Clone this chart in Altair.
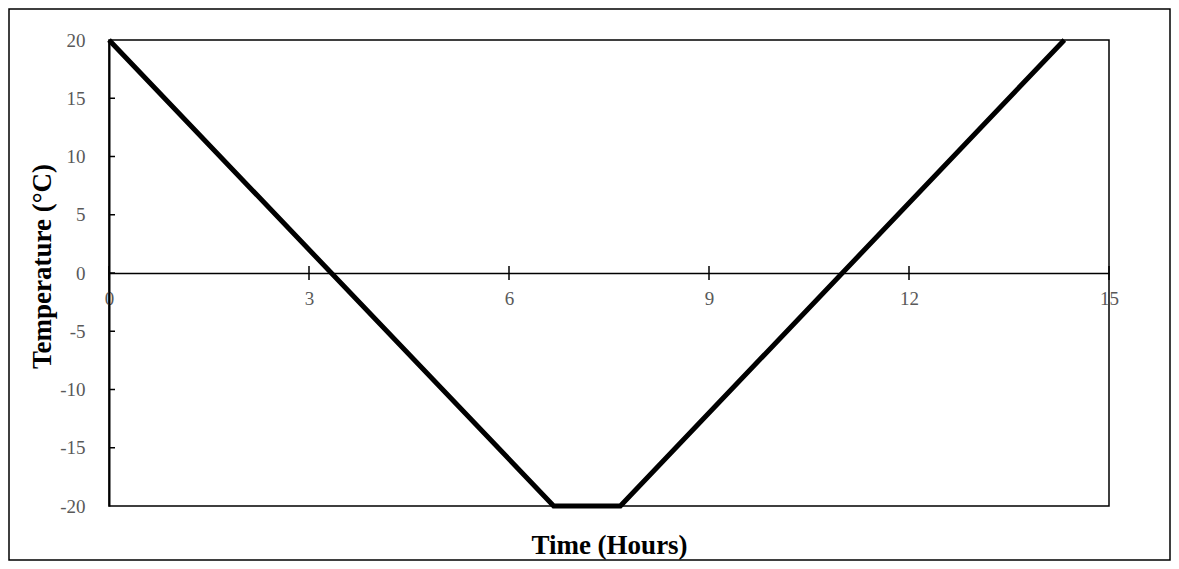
import altair as alt
import pandas as pd

# Data
time_h = [0, 6.67, 7.67, 14.33]
temp_c = [20, -20, -20, 20]
x_ticks = [0, 3, 6, 9, 12, 15]
y_ticks = [-20, -15, -10, -5, 0, 5, 10, 15, 20]
y_inner_ticks = [-15, -10, -5, 0, 5, 10, 15]

df = pd.DataFrame({"Time": time_h, "Temp": temp_c})
xt = pd.DataFrame({"Time": x_ticks})
yt = pd.DataFrame({"Temp": y_inner_ticks})
frame_df = pd.DataFrame({"k": [0]})

W, H = 1000, 466
PAD_L, PAD_T, PAD_R, PAD_B = 101, 32, 62, 55
FONT = "Liberation Serif"

xscale = alt.Scale(domain=[0, 15], nice=False, zero=False)
yscale = alt.Scale(domain=[-20, 20], nice=False)

x_axis = alt.Axis(
    values=x_ticks,
    title="Time (Hours)",
    offset=-H / 2,
    ticks=False,
    tickSize=0,
    labelPadding=16,
    labelExpr="'' + datum.value",
    labelFont=FONT,
    labelFontSize=19,
    labelColor="#595959",
    labelFlush=False,
    labelOverlap=False,
    domain=True,
    domainColor="black",
    domainWidth=1.5,
    grid=False,
    titleFont=FONT,
    titleFontSize=27,
    titleFontWeight="bold",
    titleColor="black",
    titleBaseline="alphabetic",
    titleY=280,
)

y_axis = alt.Axis(
    values=y_ticks,
    title="Temperature (°C)",
    ticks=False,
    tickSize=0,
    labelPadding=24,
    labelExpr="'' + datum.value",
    labelFont=FONT,
    labelFontSize=19,
    labelColor="#595959",
    labelFlush=False,
    labelOverlap=False,
    domain=True,
    domainColor="black",
    domainWidth=2,
    grid=False,
    titleFont=FONT,
    titleFontSize=27,
    titleFontWeight="bold",
    titleColor="black",
    titleX=-67,
    titleY=226,
    titleBaseline="middle",
)

X = alt.X("Time:Q", scale=xscale, axis=x_axis)
Y = alt.Y("Temp:Q", scale=yscale, axis=y_axis)

line = alt.Chart(df).mark_line(color="black", strokeWidth=5).encode(x=X, y=Y)

xtick_marks = alt.Chart(xt).mark_rule(color="black", strokeWidth=1.5).encode(
    x=X,
    y=alt.value(H / 2 - 7),
    y2=alt.value(H / 2 + 7),
)

ytick_marks = alt.Chart(yt).mark_rule(color="black", strokeWidth=1.5).encode(
    y=Y,
    x=alt.value(0),
    x2=alt.value(6),
)

outer = alt.Chart(frame_df).mark_rect(fill=None, stroke="black", strokeWidth=1.5).encode(
    x=alt.value(-PAD_L + 1),
    x2=alt.value(W + PAD_R - 1),
    y=alt.value(-PAD_T + 1),
    y2=alt.value(H + PAD_B - 1),
)

chart = (
    alt.layer(outer, xtick_marks, ytick_marks, line)
    .properties(
        width=W,
        height=H,
        autosize=alt.AutoSizeParams(type="none"),
        padding={"left": PAD_L, "top": PAD_T, "right": PAD_R, "bottom": PAD_B},
        background="white",
    )
    .configure_view(stroke="black", strokeWidth=1.5)
)

chart.save("out.html", embed_options={"renderer": "svg", "actions": False})
